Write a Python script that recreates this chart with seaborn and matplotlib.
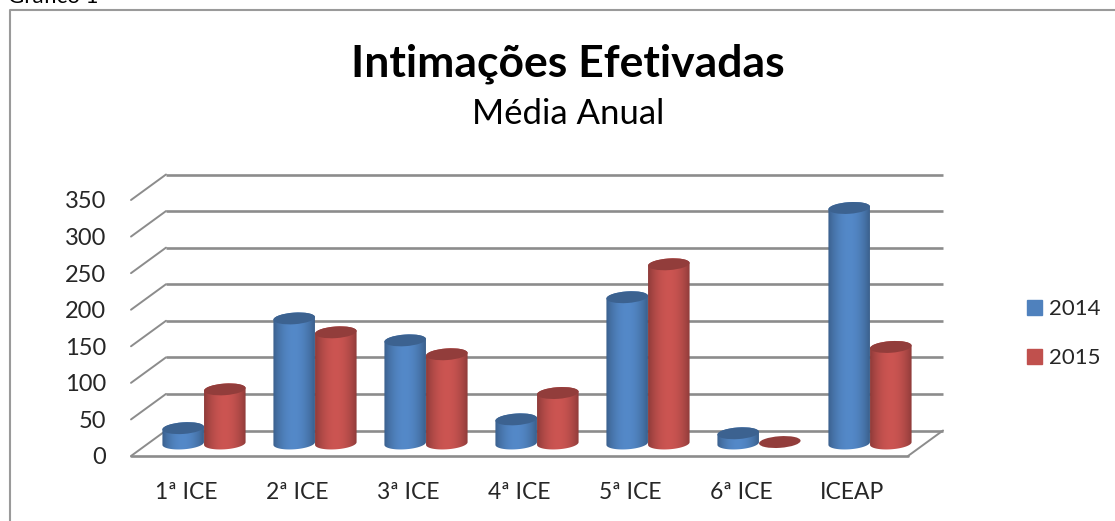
import matplotlib
matplotlib.use("Agg")
import matplotlib.pyplot as plt
import numpy as np
import pandas as pd
import seaborn as sns
from matplotlib.lines import Line2D
from matplotlib.patches import Ellipse, PathPatch
from matplotlib.path import Path
from matplotlib.transforms import IdentityTransform, Affine2D

categories = ['1ª ICE', '2ª ICE', '3ª ICE', '4ª ICE', '5ª ICE', '6ª ICE', 'ICEAP']
values_2014 = [21, 171, 141, 33, 200, 14, 322]
values_2015 = [74, 152, 122, 69, 245, 2, 132]
years = ['2014', '2015']
y_ticks = [0, 50, 100, 150, 200, 250, 300, 350]

W, H = 1115, 521
BLUE = '#4f81bd'
RED = '#c0504d'
GRID = '#8c8c8c'

sns.set_style("white")
plt.rcParams['font.family'] = ['Lato', 'DejaVu Sans']

fig = plt.figure(figsize=(W / 100, H / 100), dpi=100)
# axes is the front plane of the 3d box
ax = fig.add_axes([131 / W, (H - 456) / H, 777 / W, 256 / H])

df = pd.DataFrame({
    'categoria': categories * 2,
    'valor': values_2014 + values_2015,
    'ano': [years[0]] * 7 + [years[1]] * 7,
})
sns.barplot(data=df, x='categoria', y='valor', hue='ano', palette=[BLUE, RED],
            width=0.75, ax=ax, legend=False, zorder=3)
ax.set_xlim(-0.5, 6.5)
ax.set_ylim(0, 350)
ax.set_xlabel('')
ax.set_ylabel('')
ax.patch.set_alpha(0)
sns.despine(ax=ax, left=True, bottom=True)

ax.set_yticks(y_ticks)
ax.tick_params(axis='y', length=0, pad=18, labelsize=17)
ax.tick_params(axis='x', length=0, pad=18.5, labelsize=16.5)

# depth of the box, in pixels
depth = Affine2D().translate(35, 25.5)
mid = Affine2D().translate(17.5, 12.5)


def shade(base):
    # cylinder look: dark edges, light stripe in the middle
    rgb = np.array(matplotlib.colors.to_rgb(base))
    t = np.linspace(0, 1, 64)
    light = 0.70 + 0.36 * np.sin(np.pi * t) ** 0.8
    return np.clip(rgb[None, None, :] * light[None, :, None], 0, 1)


def arc(cx, cy, a, b, t0, t1, tilt=np.radians(4)):
    t = np.linspace(t0, t1, 40)
    x = a * np.cos(t)
    y = b * np.sin(t)
    return np.c_[cx + x * np.cos(tilt) - y * np.sin(tilt),
                 cy + x * np.sin(tilt) + y * np.cos(tilt)]


def draw_cylinder(bar, base):
    bar.set_transform(ax.transData + mid)
    bar.set_visible(False)
    x0, y0 = ax.transData.transform((bar.get_x(), bar.get_y()))
    x1, y1 = ax.transData.transform((bar.get_x() + bar.get_width(), bar.get_height()))
    x0, x1 = x0 + 17.5, x1 + 17.5
    y0, y1 = y0 + 12.5, y1 + 12.5
    cx = (x0 + x1) / 2
    a, b = (x1 - x0) / 2, 5.8
    z = 4 + cx / 5000
    if bar.get_height() > 3:
        pts = np.vstack([arc(cx, y0, a, b, np.pi, 2 * np.pi),
                         arc(cx, y1, a, b, 0, np.pi)])
        outline = PathPatch(Path(pts, closed=False), transform=IdentityTransform(),
                            facecolor='none', edgecolor='none')
        ax.add_patch(outline)
        img = ax.imshow(shade(base), aspect='auto', zorder=z, interpolation='bilinear',
                        extent=(x0 - 1, x1 + 1, y0 - 8, y1 + 8),
                        transform=IdentityTransform())
        img.set_clip_path(outline)
        img.set_clip_box(fig.bbox)
    top = np.array(matplotlib.colors.to_rgb(base)) * 0.76
    ax.add_patch(Ellipse((cx, y1), 2 * a, 2 * b, angle=4, facecolor=top, edgecolor='none',
                         transform=IdentityTransform(), zorder=z + 0.001, clip_on=False))


for container, base in zip(ax.containers, [BLUE, RED]):
    for bar in container:
        draw_cylinder(bar, base)
ax.set_xlim(-0.5, 6.5)
ax.set_ylim(0, 350)

# walls: back gridlines, side lines and floor
back = ax.transData + depth
for tick in y_ticks:
    ax.plot([-0.5, 6.5], [tick, tick], color=GRID, lw=1.9, transform=back,
            clip_on=False, zorder=1, solid_capstyle='butt')
    x_front, y_front = ax.transData.transform((-0.5, tick))
    ax.add_line(Line2D([x_front, x_front + 35], [y_front, y_front + 25.5], color=GRID, lw=1.4,
                       transform=IdentityTransform(), clip_on=False, zorder=1))
ax.plot([-0.5, 6.5], [0, 0], color=GRID, lw=1.9, clip_on=False, zorder=2)
x_front, y_front = ax.transData.transform((6.5, 0))
ax.add_line(Line2D([x_front, x_front + 35], [y_front, y_front + 25.5], color=GRID, lw=1.4,
                   transform=IdentityTransform(), clip_on=False, zorder=2))

# titles
fig.text(568 / W, (H - 76) / H, 'Intimações Efetivadas', ha='center', va='baseline',
         fontsize=32, fontweight='bold', color='black')
fig.text(568 / W, (H - 124) / H, 'Média Anual', ha='center', va='baseline',
         fontsize=25, color='black')

# legend
handles = [plt.Rectangle((0, 0), 1, 1, color=c) for c in [BLUE, RED]]
fig.legend(handles, years, loc='center left', bbox_to_anchor=(1027 / W, (H - 333.5) / H),
           frameon=False, fontsize=16, handlelength=0.68, handleheight=0.68,
           handletextpad=0.32, labelspacing=1.3, borderaxespad=0, borderpad=0)

# frame of the pasted chart and the cut off caption above it
fig.add_artist(Line2D([9.5 / W, 9.5 / W, 1], [0, (H - 9.5) / H, (H - 9.5) / H],
                      color='#9a9a9a', lw=1.5, transform=fig.transFigure))
fig.text(8 / W, (H - 3) / H, 'Gráfico 1', ha='left', va='baseline', fontsize=16, color='black')

fig.savefig('out.png', dpi=100)
